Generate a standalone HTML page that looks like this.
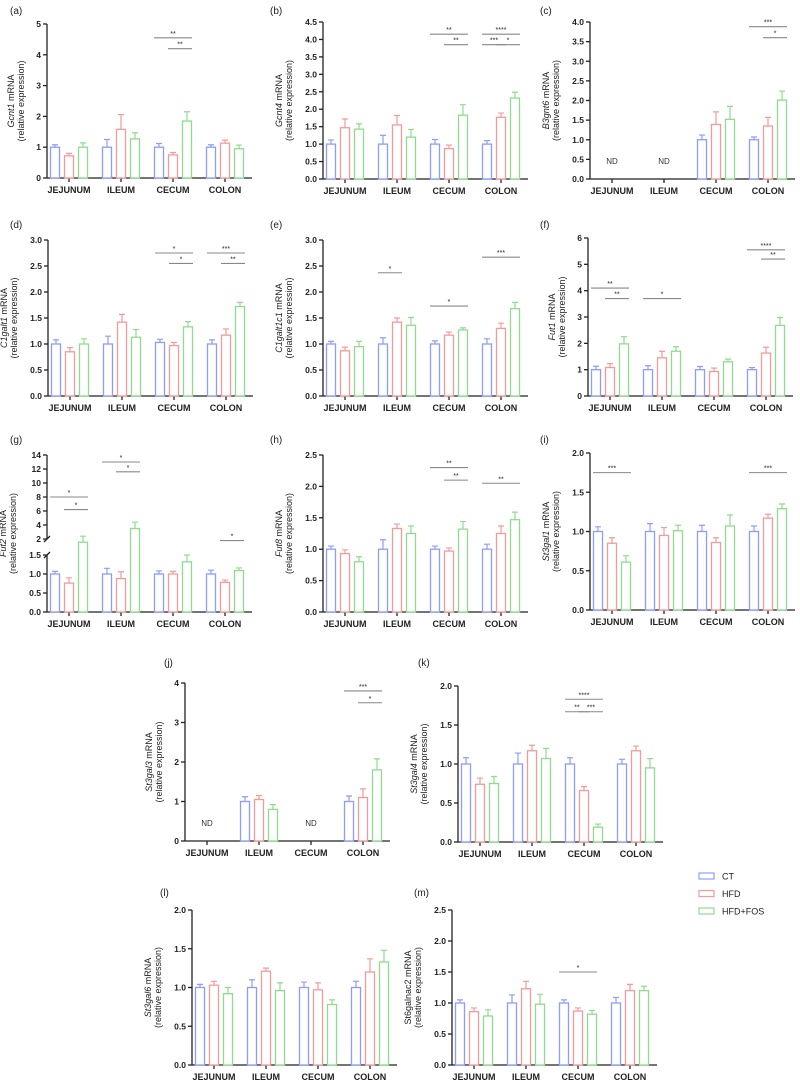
<!DOCTYPE html>
<html><head><meta charset="utf-8"><style>
html,body{margin:0;padding:0;background:#fff;}
svg{display:block;font-family:"Liberation Sans",Arial,sans-serif;}
</style></head><body>
<svg id="fig" width="800" height="1082" viewBox="0 0 800 1082" xmlns="http://www.w3.org/2000/svg"></svg>
<script>
const categories = ["JEJUNUM","ILEUM","CECUM","COLON"];
const groups = ["CT","HFD","HFD+FOS"];
// mean values per panel: [category][group]; null = ND
const meansA = [[1,0.72,1.0],[1,1.58,1.27],[1,0.75,1.85],[1,1.13,0.95]];
const semA = [[0.08,0.08,0.14],[0.25,0.48,0.2],[0.12,0.08,0.3],[0.08,0.1,0.12]];
const meansB = [[1,1.47,1.43],[1,1.55,1.2],[1,0.87,1.83],[1,1.77,2.32]];
const semB = [[0.12,0.25,0.15],[0.25,0.27,0.22],[0.13,0.1,0.3],[0.1,0.12,0.17]];
const meansC = [null,null,[1,1.39,1.52],[1,1.35,2.01]];
const semC = [null,null,[0.12,0.32,0.33],[0.07,0.22,0.23]];
const meansD = [[1,0.85,1.0],[1,1.42,1.13],[1.03,0.97,1.33],[1,1.17,1.72]];
const semD = [[0.08,0.08,0.1],[0.15,0.15,0.15],[0.06,0.06,0.1],[0.08,0.12,0.08]];
const meansE = [[1,0.87,0.95],[1,1.42,1.36],[1,1.17,1.27],[1,1.3,1.68]];
const semE = [[0.05,0.07,0.1],[0.12,0.08,0.15],[0.06,0.06,0.04],[0.1,0.1,0.12]];
const meansF = [[1,1.08,1.98],[1,1.45,1.7],[1,0.93,1.3],[1,1.63,2.68]];
const semF = [[0.13,0.15,0.27],[0.15,0.25,0.17],[0.12,0.13,0.1],[0.08,0.22,0.3]];
const meansG = [[1,0.76,1.9],[1,0.88,3.5],[1,1.0,1.32],[1,0.78,1.09]];
const semG = [[0.07,0.14,0.5],[0.15,0.18,0.9],[0.08,0.07,0.18],[0.1,0.06,0.07]];
const meansH = [[1,0.93,0.8],[1,1.33,1.25],[1,0.97,1.32],[1,1.25,1.47]];
const semH = [[0.05,0.06,0.08],[0.15,0.07,0.12],[0.05,0.05,0.12],[0.08,0.12,0.12]];
const meansI = [[1,0.85,0.61],[1,0.95,1.01],[1,0.86,1.07],[1,1.17,1.29]];
const semI = [[0.06,0.07,0.08],[0.1,0.1,0.07],[0.08,0.06,0.14],[0.07,0.05,0.06]];
const meansJ = [null,[1,1.05,0.8],null,[1,1.1,1.8]];
const semJ = [null,[0.12,0.1,0.12],null,[0.14,0.22,0.28]];
const meansK = [[1,0.74,0.75],[1,1.17,1.07],[1,0.66,0.19],[1,1.17,0.95]];
const semK = [[0.08,0.08,0.09],[0.14,0.07,0.13],[0.08,0.05,0.04],[0.06,0.06,0.12]];
const meansL = [[1,1.03,0.92],[1,1.21,0.96],[1,0.97,0.78],[1,1.2,1.33]];
const semL = [[0.04,0.05,0.08],[0.1,0.04,0.1],[0.07,0.09,0.06],[0.08,0.17,0.15]];
const meansM = [[1,0.86,0.79],[1,1.23,0.98],[1,0.87,0.82],[1,1.2,1.2]];
const semM = [[0.05,0.06,0.1],[0.13,0.12,0.16],[0.05,0.05,0.06],[0.09,0.1,0.07]];
// significance: [category, group1, group2, y value, label]
const sigA = [[2,0,2,4.55,"**"],[2,1,2,4.2,"**"]];
const sigB = [[2,0,2,4.15,"**"],[2,1,2,3.85,"**"],[3,0,2,4.15,"****"],[3,0,1,3.85,"***"],[3,1,2,3.85,"*"]];
const sigC = [[3,0,2,3.88,"***"],[3,1,2,3.6,"*"]];
const sigD = [[2,0,2,2.75,"*"],[2,1,2,2.55,"*"],[3,0,2,2.75,"***"],[3,1,2,2.55,"**"]];
const sigE = [[1,0,1,2.37,"*"],[2,0,2,1.73,"*"],[3,0,2,2.67,"***"]];
const sigF = [[0,0,2,4.1,"**"],[0,1,2,3.7,"**"],[1,0,2,3.7,"*"],[3,0,2,5.55,"****"],[3,1,2,5.2,"**"]];
const sigG = [[0,0,2,8,"*"],[0,1,2,6.2,"*"],[1,0,2,13,"*"],[1,1,2,11.6,"*"],[3,1,2,1.95,"*"]];
const sigH = [[2,0,2,2.3,"**"],[2,1,2,2.1,"**"],[3,0,2,2.05,"**"]];
const sigI = [[0,0,2,1.75,"***"],[3,0,2,1.75,"***"]];
const sigJ = [[3,0,2,3.8,"***"],[3,1,2,3.5,"*"]];
const sigK = [[2,0,2,1.83,"****"],[2,0,1,1.67,"**"],[2,1,2,1.67,"***"]];
const sigL = [];
const sigM = [[2,0,2,1.5,"*"]];
const ticksA=["0","1","2","3","4","5"], ticksB=["0.0","0.5","1.0","1.5","2.0","2.5","3.0","3.5","4.0","4.5"];
const ticksC=["0.0","0.5","1.0","1.5","2.0","2.5","3.0","3.5","4.0"], ticks3=["0.0","0.5","1.0","1.5","2.0","2.5","3.0"];
const ticksF=["0","1","2","3","4","5","6"], ticks25=["0.0","0.5","1.0","1.5","2.0","2.5"], ticks2=["0.0","0.5","1.0","1.5","2.0"];
const ticksJ=["0","1","2","3","4"];
const ticksGlow=["0.0","0.5","1.0","1.5"], ticksGup=["2","4","6","8","10","12","14"];

const stroke=["#8c9cff","#f59a9a","#8fdc8f"];
const NS="http://www.w3.org/2000/svg";
const svg=document.getElementById('fig');
function mk(tag,attrs,parent,text){const e=document.createElementNS(NS,tag);for(const k in attrs)e.setAttribute(k,attrs[k]);if(text!==undefined)e.textContent=text;(parent||svg).appendChild(e);return e;}

const panels=[
 {id:"a",gene:"Gcnt1",lx:10,ly:14,ax:47,top:24,bot:178,max:5,ticks:ticksA,m:meansA,s:semA,sig:sigA},
 {id:"b",gene:"Gcnt4",lx:270,ly:14,ax:323,top:22,bot:179,max:4.5,ticks:ticksB,m:meansB,s:semB,sig:sigB},
 {id:"c",gene:"B3gnt6",lx:540,ly:14,ax:590,top:22,bot:179,max:4,ticks:ticksC,m:meansC,s:semC,sig:sigC},
 {id:"d",gene:"C1galt1",lx:10,ly:228,ax:48,top:240,bot:396,max:3,ticks:ticks3,m:meansD,s:semD,sig:sigD},
 {id:"e",gene:"C1galt1c1",lx:270,ly:228,ax:323,top:240,bot:396,max:3,ticks:ticks3,m:meansE,s:semE,sig:sigE},
 {id:"f",gene:"Fut1",lx:540,ly:228,ax:588,top:238,bot:396,max:6,ticks:ticksF,m:meansF,s:semF,sig:sigF},
 {id:"g",gene:"Fut2",lx:10,ly:443,ax:47,top:455,bot:612,max:14,broken:true,m:meansG,s:semG,sig:sigG},
 {id:"h",gene:"Fut8",lx:270,ly:443,ax:323,top:455,bot:612,max:2.5,ticks:ticks25,m:meansH,s:semH,sig:sigH},
 {id:"i",gene:"St3gal1",lx:540,ly:443,ax:590,top:453,bot:610,max:2,ticks:ticks2,m:meansI,s:semI,sig:sigI},
 {id:"j",gene:"St3gal3",lx:164,ly:666,ax:185,top:683,bot:841,max:4,ticks:ticksJ,m:meansJ,s:semJ,sig:sigJ},
 {id:"k",gene:"St3gal4",lx:418,ly:666,ax:458,top:686,bot:842,max:2,ticks:ticks2,m:meansK,s:semK,sig:sigK},
 {id:"l",gene:"St3gal6",lx:160,ly:896,ax:192,top:910,bot:1065,max:2,ticks:ticks2,m:meansL,s:semL,sig:sigL},
 {id:"m",gene:"St6galnac2",lx:414,ly:896,ax:452,top:910,bot:1065,max:2.5,ticks:ticks25,m:meansM,s:semM,sig:sigM,plain:true}
];

panels.forEach(p=>{
  const g=mk('g',{});
  
  
  const lab=mk('text',{x:p.lx,y:p.ly,'font-size':10,fill:'#222'},g,'('+p.id+')');
  
  
  let y;
  const lowTop=p.bot-57, upBot=p.bot-73;
  if(p.broken){
    y=v=>{ if(v<=1.5) return p.bot-(v/1.5)*(p.bot-lowTop);
      if(v>=2) return upBot-(v-2)/12*(upBot-p.top);
      return lowTop-(v-1.5)/0.5*(lowTop-upBot);};
  } else y=v=>p.bot-v/p.max*(p.bot-p.top);
  const spacing=52, cx=i=>p.ax+22+i*spacing, off=[-14,0,14], bw=9;
  const axes=mk('g',{stroke:'#222','stroke-width':1.3,fill:'none'},g);
  
  
  const xEnd=p.ax+205;
  mk('line',{x1:p.ax,y1:p.bot,x2:xEnd,y2:p.bot},axes);
  // y axis + ticks
  const tickSets = p.broken ? [[ticksGlow,0.5,0],[ticksGup,2,2]] : [[p.ticks,p.max/(p.ticks.length-1),0]];
  if(p.broken){
    mk('line',{x1:p.ax,y1:p.bot,x2:p.ax,y2:lowTop},axes);
    mk('line',{x1:p.ax,y1:upBot,x2:p.ax,y2:p.top},axes);
    mk('line',{x1:p.ax-3,y1:lowTop+3,x2:p.ax+3,y2:lowTop-3},axes);
    mk('line',{x1:p.ax-3,y1:upBot+3,x2:p.ax+3,y2:upBot-3},axes);
  } else mk('line',{x1:p.ax,y1:p.bot,x2:p.ax,y2:p.top},axes);
  tickSets.forEach(ts=>{
    ts[0].forEach((t,i)=>{
      const v=ts[2]+i*ts[1], yy=y(v);
      mk('line',{x1:p.ax-4,y1:yy,x2:p.ax,y2:yy},axes);
      const tl=mk('text',{x:p.ax-6,y:yy+3,'font-size':8.5,'font-weight':'bold','text-anchor':'end',fill:'#222'},g,t);
      
      
    });
  });
  // y title
  const tx=p.ax-(p.ticks&&p.ticks[0].length>1||p.broken?38:30), ty=(p.top+p.bot)/2;
  const tt=mk('text',{transform:`translate(${tx},${ty}) rotate(-90)`,'font-size':9,'text-anchor':'middle',fill:'#222'},g);
  
  
  const t1=mk('tspan',{x:0,dy:-3,'font-style':p.plain?'normal':'italic'},tt,p.gene);
  mk('tspan',{},tt,' mRNA');
  mk('tspan',{x:0,dy:10},tt,'(relative expression)');
  categories.forEach((c,ci)=>{
    mk('line',{x1:cx(ci),y1:p.bot,x2:cx(ci),y2:p.bot+4},axes);
    const cl=mk('text',{x:cx(ci),y:p.bot+15,'font-size':9,'font-weight':'bold','text-anchor':'middle',fill:'#222'},g,c);
    
    
    const row=p.m[ci];
    if(!row){
      const nd=mk('text',{x:cx(ci),y:p.bot-15,'font-size':8,'text-anchor':'middle',fill:'#333'},g,'ND');
      
      
      return;
    }
    row.forEach((v,gi)=>{
      const x=cx(ci)+off[gi], yv=y(v), ye=y(v+p.s[ci][gi]);
      const b=mk('rect',{x:x-bw/2,y:yv,width:bw,height:p.bot-yv,fill:'#fff',stroke:stroke[gi],'stroke-width':1.3},g);
      
      
      const e=mk('path',{d:`M${x},${yv}V${ye}M${x-3},${ye}H${x+3}`,stroke:stroke[gi],'stroke-width':1.2,fill:'none'},g);
      
      
    });
  });
  p.sig.forEach(s=>{
    const x1=cx(s[0])+off[s[1]]-5, x2=cx(s[0])+off[s[2]]+5, yy=y(s[3]);
    const l=mk('line',{x1:x1,y1:yy,x2:x2,y2:yy,stroke:'#888','stroke-width':1.1},g);
    
    
    const st=mk('text',{x:(x1+x2)/2,y:yy-2,'font-size':7,'text-anchor':'middle',fill:'#222'},g,s[4]);
    
    
  });
});
// legend
const leg=mk('g',{});


groups.forEach((gname,i)=>{
  const yy=876+i*17.5;
  const r=mk('rect',{x:699,y:yy-3,width:15,height:6,fill:'#fff',stroke:stroke[i],'stroke-width':1.2},leg);
  
  
  const t=mk('text',{x:722,y:yy+3.5,'font-size':9,fill:'#222'},leg,gname);
  
  
});
</script>
</body></html>
